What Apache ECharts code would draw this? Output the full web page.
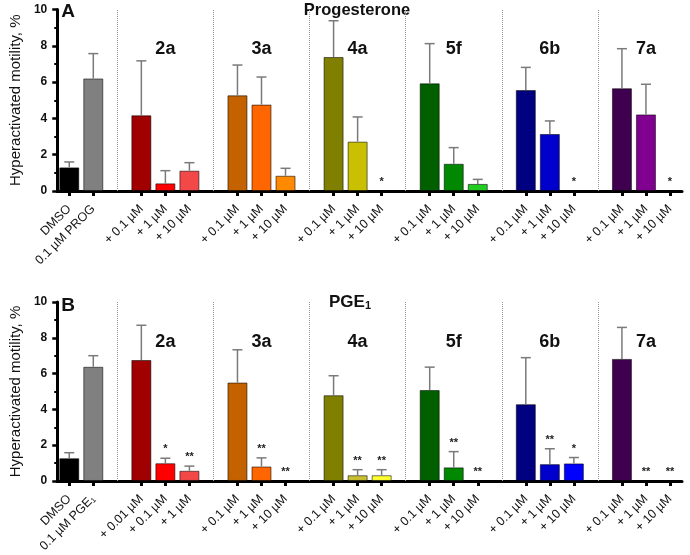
<!DOCTYPE html>
<html>
<head>
<meta charset="utf-8">
<script src="https://cdn.jsdelivr.net/npm/echarts@6/dist/echarts.min.js"></script>
<style>
html,body{margin:0;padding:0;background:#fff;}
#chart{width:690px;height:555px;}
</style>
</head>
<body>
<div id="chart"></div>
<script>
// ---------- DATA ----------
const topCategories = ['DMSO','0.1 µM PROG','','+ 0.1 µM','+ 1 µM','+ 10 µM','','+ 0.1 µM','+ 1 µM','+ 10 µM','','+ 0.1 µM','+ 1 µM','+ 10 µM','','+ 0.1 µM','+ 1 µM','+ 10 µM','','+ 0.1 µM','+ 1 µM','+ 10 µM','','+ 0.1 µM','+ 1 µM','+ 10 µM'];
const bottomCategories = ['DMSO','0.1 µM PGE₁','','+ 0.01 µM','+ 0.1 µM','+ 1 µM','','+ 0.1 µM','+ 1 µM','+ 10 µM','','+ 0.1 µM','+ 1 µM','+ 10 µM','','+ 0.1 µM','+ 1 µM','+ 10 µM','','+ 0.1 µM','+ 1 µM','+ 10 µM','','+ 0.1 µM','+ 1 µM','+ 10 µM'];

const topValues = [1.3, 6.2, null, 4.17, 0.42, 1.12, null, 5.27, 4.76, 0.84, null, 7.38, 2.72, 0, null, 5.93, 1.5, 0.39, null, 5.56, 3.14, 0, null, 5.66, 4.22, 0];
const topErrors = [0.3, 1.37, null, 3.0, 0.7, 0.44, null, 1.67, 1.52, 0.41, null, 2.0, 1.36, 0, null, 2.19, 0.89, 0.25, null, 1.25, 0.72, 0, null, 2.18, 1.66, 0];
const topStars  = ['', '', '', '', '', '', '', '', '', '', '', '', '', '*', '', '', '', '', '', '', '', '*', '', '', '', '*'];

const bottomValues = [1.27, 6.38, null, 6.76, 0.99, 0.57, null, 5.5, 0.81, 0, null, 4.79, 0.32, 0.32, null, 5.08, 0.76, 0, null, 4.29, 0.94, 0.98, null, 6.82, 0, 0];
const bottomErrors = [0.31, 0.62, null, 1.94, 0.28, 0.26, null, 1.83, 0.48, 0, null, 1.09, 0.31, 0.31, null, 1.28, 0.88, 0, null, 2.6, 0.86, 0.33, null, 1.76, 0, 0];
const bottomStars  = ['', '', '', '', '*', '**', '', '', '**', '**', '', '', '**', '**', '', '', '**', '**', '', '', '**', '*', '', '', '**', '**'];

const groupNames = ['2a', '3a', '4a', '5f', '6b', '7a'];
const groupCenters = [4, 8, 12, 16, 20, 24];

const yTicks = [0, 2, 4, 6, 8, 10];

// ---------- STYLE ----------
const topColors = ['#000000','#808080',null,'#a00000','#ff0000','#f24848',null,'#c46200','#ff6600','#ff8a00',null,'#808000','#c8c000','#e8e000',null,'#006000','#008800','#22cc22',null,'#000080','#0000cc','#0000ff',null,'#400050','#800090','#a040c0'];
const bottomColors = ['#000000','#808080',null,'#a00000','#ff0000','#f24848',null,'#c46200','#ff6600','#ff8a00',null,'#808000','#c8c030','#ffff30',null,'#006000','#008800','#22cc22',null,'#000080','#0000cc','#0000ff',null,'#400050','#800090','#a040c0'];

const FONT = '"Liberation Sans", Arial, sans-serif';
const chart = echarts.init(document.getElementById('chart'), null, {renderer: 'canvas'});

function xAxisCfg(gridIndex, cats) {
  return {
    type: 'category', gridIndex, data: cats,
    axisLine: {lineStyle: {color: '#000', width: 3}},
    axisTick: {show: true, alignWithLabel: true, length: 5, lineStyle: {color: '#000', width: 3},
      interval: (i, v) => v !== ''},
    axisLabel: {interval: 0, rotate: 45, margin: 16, fontFamily: FONT, fontSize: 12.5, color: '#111'},
    splitLine: {show: false}
  };
}
function yAxisCfg(gridIndex) {
  return {
    type: 'value', gridIndex, min: yTicks[0], max: yTicks[yTicks.length - 1], interval: 2,
    name: 'Hyperactivated motility, %', nameLocation: 'middle', nameGap: 29,
    nameTextStyle: {fontFamily: FONT, fontSize: 15, color: '#111'},
    axisLine: {show: true, lineStyle: {color: '#000', width: 3}},
    axisTick: {show: true, length: 5, lineStyle: {color: '#000', width: 2.5}},
    minorTick: {show: true, splitNumber: 2, length: 3, lineStyle: {color: '#000', width: 2}},
    axisLabel: {margin: 10, fontFamily: FONT, fontSize: 12, fontWeight: 'bold', color: '#111'},
    splitLine: {show: false}
  };
}

function barSeries(idx, values, colors, cats) {
  const seps = [];
  cats.forEach((c, i) => { if (c === '') seps.push({xAxis: i}); });
  return {
    type: 'bar', xAxisIndex: idx, yAxisIndex: idx, barWidth: 20,
    data: values.map((v, i) => v === null ? null : {
      value: v, itemStyle: {color: colors[i], borderColor: 'rgba(0,0,0,0.55)', borderWidth: 1}
    }),
    markLine: {
      silent: true, symbol: ['none', 'none'], label: {show: false},
      lineStyle: {color: '#999', type: 'dotted', width: 1},
      data: seps
    },
    z: 2
  };
}

function errSeries(idx, values, errors, stars) {
  const data = [];
  values.forEach((v, i) => { if (v !== null) data.push([i, v]); });
  return {
    type: 'custom', xAxisIndex: idx, yAxisIndex: idx, silent: true, z: 3,
    encode: {x: 0, y: 1},
    data,
    renderItem: function (params, api) {
      const i = api.value(0);
      const v = values[i], e = errors[i], s = stars[i];
      const base = api.coord([i, v]);
      const top = api.coord([i, v + e]);
      const children = [];
      if (e > 0) {
        children.push({type: 'line', shape: {x1: base[0], y1: base[1], x2: top[0], y2: top[1]},
          style: {stroke: '#7a7a7a', lineWidth: 1.5}});
        children.push({type: 'line', shape: {x1: top[0] - 5, y1: top[1], x2: top[0] + 5, y2: top[1]},
          style: {stroke: '#7a7a7a', lineWidth: 1.5}});
      }
      if (s) {
        children.push({type: 'text', x: top[0], y: top[1] - 9,
          style: {text: s, fill: '#222', font: 'bold 11px ' + FONT, align: 'center', verticalAlign: 'middle'}});
      }
      return {type: 'group', children};
    }
  };
}

function groupSeries(idx) {
  return {
    type: 'custom', xAxisIndex: idx, yAxisIndex: idx, silent: true, z: 4,
    encode: {x: 0, y: 1},
    data: groupCenters.map((c, k) => [c, yTicks[yTicks.length - 1], k]),
    renderItem: function (params, api) {
      const p = api.coord([api.value(0), api.value(1)]);
      return {type: 'text', x: p[0], y: p[1] + 40,
        style: {text: groupNames[api.value(2)], fill: '#111', font: 'bold 18px ' + FONT, align: 'center', verticalAlign: 'middle'}};
    }
  };
}

const option = {
  backgroundColor: '#fff',
  animation: false,
  grid: [
    {left: 49, top: 9.5, width: 633, height: 181.5},
    {left: 49, top: 302, width: 633, height: 182}
  ],
  xAxis: [xAxisCfg(0, topCategories), xAxisCfg(1, bottomCategories)],
  yAxis: [yAxisCfg(0), yAxisCfg(1)],
  graphic: [
    {type: 'text', x: 68, y: 12, style: {text: 'A', font: 'bold 19px ' + FONT, fill: '#111', align: 'center', verticalAlign: 'middle'}},
    {type: 'text', x: 357, y: 10, style: {text: 'Progesterone', font: 'bold 16.5px ' + FONT, fill: '#111', align: 'center', verticalAlign: 'middle'}},
    {type: 'text', x: 68, y: 306, style: {text: 'B', font: 'bold 19px ' + FONT, fill: '#111', align: 'center', verticalAlign: 'middle'}},
    {type: 'text', x: 350, y: 301, style: {text: '{a|PGE}{b|1}', align: 'center', verticalAlign: 'middle',
      rich: {
        a: {fontFamily: FONT, fontSize: 17, fontWeight: 'bold', fill: '#111', lineHeight: 20, verticalAlign: 'bottom'},
        b: {fontFamily: FONT, fontSize: 11, fontWeight: 'bold', fill: '#111', lineHeight: 20, verticalAlign: 'bottom', padding: [6, 0, 0, 0]}
      }}}
  ],
  series: [
    barSeries(0, topValues, topColors, topCategories),
    errSeries(0, topValues, topErrors, topStars),
    groupSeries(0),
    barSeries(1, bottomValues, bottomColors, bottomCategories),
    errSeries(1, bottomValues, bottomErrors, bottomStars),
    groupSeries(1)
  ]
};
chart.setOption(option);
</script>
</body>
</html>
